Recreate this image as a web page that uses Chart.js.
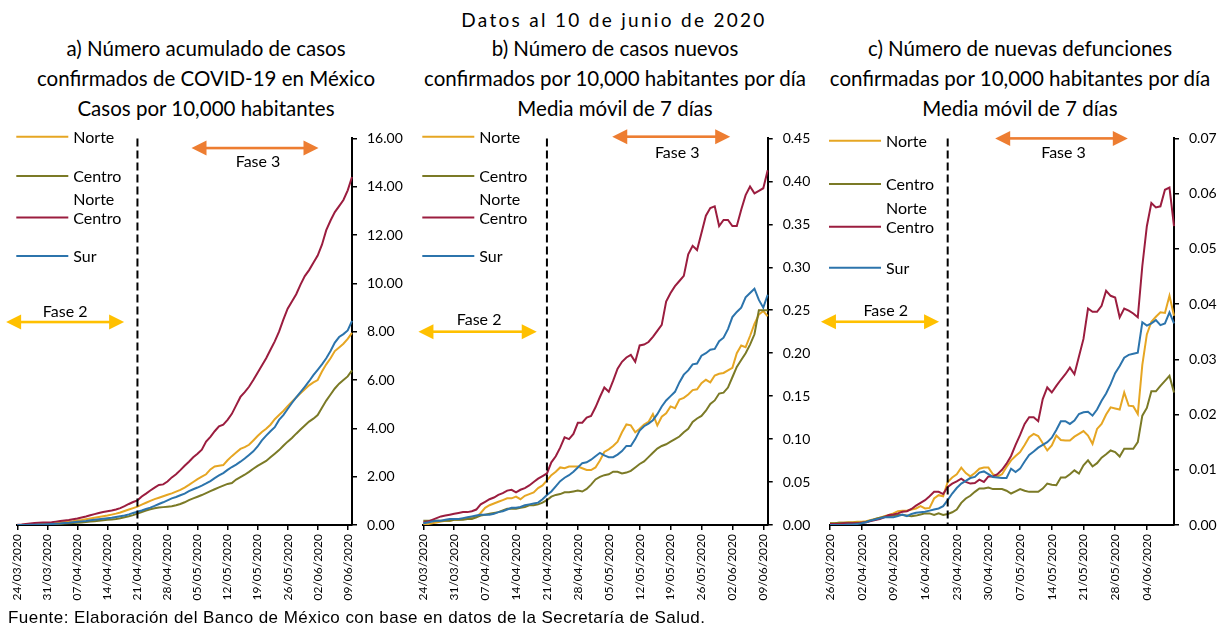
<!DOCTYPE html>
<html lang="es">
<head>
<meta charset="UTF-8">
<title>COVID-19 por regiones</title>
<script src="https://cdn.jsdelivr.net/npm/chart.js@4.4.0/dist/chart.umd.min.js"></script>
<style>
  html, body { margin: 0; padding: 0; background: #fff; }
  #hoja { position: relative; width: 1226px; height: 626px; overflow: hidden; font-family: Lato, sans-serif; color: #000; }
  .titulo { position: absolute; white-space: nowrap; transform: translateX(-50%); text-align: center; font-size: 20.5px; line-height: 30px; }
  canvas { position: absolute; }
  #fuente { position: absolute; left: 8px; top: 608px; font-family: "Liberation Sans", Arial, sans-serif; font-size: 17px; letter-spacing: 0.45px; white-space: nowrap; }
</style>
</head>
<body>
<div id="hoja">
  <div class="titulo" style="left:614px; top:5px; font-size:19px; letter-spacing:2.3px">Datos al 10 de junio de 2020</div>
  <div class="titulo" style="left:206px; top:33px">a) Número acumulado de casos<br>confirmados de COVID-19 en México<br>Casos por 10,000 habitantes</div>
  <div class="titulo" style="left:615px; top:33px">b) Número de casos nuevos<br>confirmados por 10,000 habitantes por día<br>Media móvil de 7 días</div>
  <div class="titulo" style="left:1020px; top:33px">c) Número de nuevas defunciones<br>confirmadas por 10,000 habitantes por día<br>Media móvil de 7 días</div>
  <canvas id="panelA" width="410" height="490" style="left:0; top:120px"></canvas>
  <canvas id="panelB" width="410" height="490" style="left:405px; top:120px"></canvas>
  <canvas id="panelC" width="411" height="490" style="left:815px; top:120px"></canvas>
  <div id="fuente">Fuente: Elaboración del Banco de México con base en datos de la Secretaría de Salud.</div>
</div>

<script>
// días consecutivos en formato dd/mm/aaaa
function fechas(inicio, n) {
  const d0 = Date.UTC(inicio[0], inicio[1] - 1, inicio[2]);
  const out = [];
  for (let i = 0; i < n; i++) {
    const d = new Date(d0 + i * 86400000);
    out.push(String(d.getUTCDate()).padStart(2, '0') + '/' + String(d.getUTCMonth() + 1).padStart(2, '0') + '/' + d.getUTCFullYear());
  }
  return out;
}

const fechasAB = fechas([2020, 3, 24], 79);   // 24/03 - 10/06
const fechasC = fechas([2020, 3, 26], 77);    // 26/03 - 10/06

const regiones = ['Norte', 'Centro', 'Norte Centro', 'Sur'];
const colores = ['#E6A623', '#7B7A26', '#9B1D3F', '#2C74AC'];

// a) casos acumulados por 10,000 habitantes
const acumNorte = [0.00,0.00,0.01,0.01,0.02,0.03,0.04,0.05,0.06,0.08,
  0.10,0.12,0.14,0.16,0.19,0.21,0.24,0.27,0.30,0.33,
  0.36,0.39,0.43,0.47,0.52,0.58,0.64,0.70,0.76,0.84,
  0.92,1.00,1.07,1.13,1.19,1.25,1.31,1.38,1.45,1.55,
  1.66,1.78,1.90,2.00,2.10,2.30,2.42,2.45,2.48,2.68,
  2.85,3.00,3.15,3.22,3.32,3.50,3.68,3.85,3.98,4.15,
  4.38,4.55,4.72,4.92,5.10,5.28,5.45,5.62,5.78,5.90,
  6.00,6.35,6.65,6.90,7.20,7.35,7.50,7.70,7.95];
const acumCentro = [0.00,0.00,0.00,0.01,0.01,0.01,0.02,0.02,0.03,0.04,
  0.05,0.06,0.07,0.08,0.09,0.10,0.12,0.14,0.16,0.18,
  0.20,0.22,0.23,0.25,0.28,0.32,0.36,0.41,0.47,0.54,
  0.60,0.65,0.69,0.72,0.74,0.76,0.78,0.82,0.87,0.94,
  1.03,1.10,1.17,1.24,1.32,1.40,1.48,1.56,1.63,1.70,
  1.74,1.88,1.98,2.08,2.20,2.33,2.45,2.55,2.65,2.80,
  2.95,3.10,3.28,3.45,3.60,3.78,3.95,4.12,4.28,4.40,
  4.55,4.85,5.15,5.40,5.65,5.85,6.00,6.15,6.40];
const acumNorteCentro = [0.01,0.02,0.04,0.06,0.08,0.09,0.10,0.10,0.11,0.14,
  0.17,0.19,0.21,0.24,0.27,0.31,0.35,0.40,0.45,0.50,
  0.54,0.57,0.60,0.64,0.70,0.78,0.87,0.95,1.02,1.18,
  1.30,1.43,1.55,1.66,1.68,1.80,1.97,2.10,2.27,2.45,
  2.62,2.80,2.95,3.12,3.45,3.65,3.88,4.08,4.15,4.35,
  4.60,4.95,5.30,5.50,5.72,6.00,6.30,6.60,6.90,7.25,
  7.60,8.00,8.50,8.95,9.25,9.55,9.95,10.30,10.55,10.85,
  11.15,11.60,12.20,12.60,12.95,13.20,13.45,13.85,14.40];
const acumSur = [0.00,0.00,0.00,0.01,0.01,0.02,0.02,0.03,0.04,0.05,
  0.06,0.08,0.09,0.11,0.13,0.15,0.17,0.20,0.22,0.24,
  0.26,0.28,0.30,0.33,0.36,0.39,0.44,0.50,0.55,0.60,
  0.66,0.72,0.79,0.87,0.94,1.02,1.10,1.16,1.23,1.30,
  1.40,1.48,1.55,1.63,1.72,1.82,1.94,2.05,2.15,2.28,
  2.40,2.50,2.62,2.75,2.90,3.05,3.25,3.50,3.70,3.88,
  4.05,4.35,4.55,4.80,5.05,5.28,5.50,5.72,5.95,6.20,
  6.42,6.65,6.90,7.20,7.55,7.78,7.90,8.05,8.45];

// b) casos nuevos por 10,000 habitantes, media móvil 7 días
const nuevosNorte = [0.001,0.001,0.002,0.003,0.004,0.005,0.005,0.006,0.006,0.007,
  0.008,0.009,0.009,0.014,0.020,0.023,0.025,0.027,0.029,0.031,
  0.031,0.033,0.030,0.034,0.036,0.038,0.043,0.046,0.052,0.058,
  0.062,0.067,0.066,0.068,0.068,0.068,0.066,0.064,0.064,0.067,
  0.075,0.085,0.088,0.092,0.097,0.108,0.117,0.116,0.108,0.112,
  0.117,0.120,0.129,0.116,0.126,0.130,0.138,0.136,0.146,0.148,
  0.152,0.157,0.158,0.165,0.169,0.166,0.174,0.176,0.177,0.180,
  0.183,0.200,0.209,0.207,0.220,0.234,0.245,0.249,0.243];
const nuevosCentro = [0.005,0.005,0.005,0.005,0.005,0.005,0.005,0.006,0.006,0.006,
  0.007,0.007,0.009,0.011,0.012,0.013,0.014,0.015,0.017,0.019,
  0.019,0.019,0.020,0.021,0.023,0.023,0.024,0.026,0.029,0.033,
  0.035,0.036,0.038,0.038,0.039,0.040,0.039,0.042,0.047,0.053,
  0.056,0.058,0.059,0.062,0.062,0.060,0.061,0.063,0.067,0.071,
  0.074,0.079,0.084,0.089,0.092,0.094,0.097,0.100,0.103,0.108,
  0.112,0.120,0.124,0.127,0.133,0.141,0.145,0.153,0.154,0.160,
  0.172,0.184,0.192,0.200,0.210,0.222,0.250,0.250,0.250];
const nuevosNorteCentro = [0.003,0.004,0.006,0.008,0.010,0.011,0.012,0.013,0.014,0.015,
  0.015,0.016,0.018,0.024,0.027,0.030,0.032,0.035,0.037,0.040,
  0.041,0.038,0.041,0.043,0.046,0.050,0.054,0.057,0.060,0.073,
  0.080,0.090,0.102,0.100,0.106,0.119,0.119,0.125,0.127,0.137,
  0.149,0.160,0.155,0.168,0.182,0.190,0.195,0.198,0.190,0.209,
  0.210,0.213,0.219,0.226,0.233,0.260,0.270,0.278,0.284,0.290,
  0.315,0.325,0.320,0.340,0.360,0.369,0.371,0.348,0.355,0.355,
  0.348,0.348,0.367,0.384,0.394,0.386,0.389,0.392,0.413];
const nuevosSur = [0.002,0.003,0.004,0.005,0.005,0.006,0.007,0.007,0.007,0.008,
  0.009,0.010,0.011,0.012,0.012,0.012,0.013,0.015,0.016,0.018,
  0.020,0.020,0.021,0.023,0.024,0.025,0.026,0.030,0.035,0.039,
  0.045,0.051,0.055,0.058,0.062,0.067,0.072,0.073,0.076,0.080,
  0.084,0.081,0.079,0.079,0.082,0.086,0.092,0.092,0.100,0.110,
  0.115,0.118,0.122,0.129,0.138,0.145,0.150,0.155,0.166,0.175,
  0.180,0.187,0.188,0.197,0.200,0.204,0.205,0.214,0.218,0.228,
  0.242,0.248,0.253,0.265,0.270,0.275,0.262,0.253,0.268];

// c) defunciones nuevas por 10,000 habitantes, media móvil 7 días
const defNorte = [0.0003,0.0003,0.0004,0.0004,0.0005,0.0005,0.0006,0.0006,0.0007,0.0009,
  0.0011,0.0013,0.0016,0.0018,0.0021,0.0025,0.0026,0.0026,0.0028,0.0030,
  0.0034,0.0030,0.0031,0.0048,0.0054,0.0052,0.0078,0.0086,0.0092,0.0104,
  0.0094,0.0088,0.0094,0.0102,0.0104,0.0104,0.0092,0.0088,0.0092,0.0105,
  0.0117,0.0125,0.0132,0.0145,0.0159,0.0165,0.0161,0.0148,0.0135,0.0144,
  0.0162,0.0154,0.0153,0.0153,0.0160,0.0165,0.0170,0.0162,0.0147,0.0174,
  0.0183,0.0200,0.0213,0.0211,0.0209,0.0240,0.0216,0.0215,0.0201,0.0290,
  0.0345,0.0368,0.0377,0.0385,0.0384,0.0415,0.0379];
const defCentro = [0.0003,0.0003,0.0004,0.0004,0.0004,0.0004,0.0004,0.0004,0.0006,0.0008,
  0.0011,0.0013,0.0015,0.0016,0.0017,0.0018,0.0018,0.0017,0.0016,0.0017,
  0.0019,0.0021,0.0021,0.0018,0.0021,0.0018,0.0020,0.0023,0.0028,0.0040,
  0.0048,0.0053,0.0060,0.0066,0.0066,0.0068,0.0065,0.0065,0.0065,0.0062,
  0.0057,0.0061,0.0065,0.0062,0.0060,0.0060,0.0060,0.0066,0.0075,0.0073,
  0.0072,0.0086,0.0086,0.0092,0.0099,0.0093,0.0108,0.0117,0.0106,0.0112,
  0.0122,0.0128,0.0135,0.0132,0.0124,0.0138,0.0138,0.0138,0.0150,0.0198,
  0.0212,0.0242,0.0242,0.0252,0.0261,0.0270,0.0240];
const defNorteCentro = [0.0002,0.0002,0.0002,0.0003,0.0003,0.0003,0.0003,0.0004,0.0005,0.0007,
  0.0009,0.0011,0.0014,0.0018,0.0019,0.0021,0.0024,0.0025,0.0029,0.0035,
  0.0040,0.0045,0.0052,0.0060,0.0060,0.0056,0.0069,0.0075,0.0079,0.0084,
  0.0078,0.0075,0.0076,0.0082,0.0078,0.0088,0.0088,0.0092,0.0100,0.0111,
  0.0125,0.0145,0.0163,0.0183,0.0195,0.0195,0.0188,0.0228,0.0249,0.0240,
  0.0252,0.0263,0.0273,0.0285,0.0273,0.0305,0.0337,0.0392,0.0386,0.0386,
  0.0397,0.0424,0.0415,0.0412,0.0376,0.0392,0.0388,0.0383,0.0376,0.0469,
  0.0541,0.0583,0.0575,0.0577,0.0607,0.0611,0.0541];
const defSur = [0.0000,0.0000,0.0000,0.0000,0.0001,0.0001,0.0002,0.0003,0.0005,0.0008,
  0.0010,0.0012,0.0014,0.0014,0.0014,0.0016,0.0019,0.0016,0.0020,0.0022,
  0.0023,0.0024,0.0026,0.0028,0.0030,0.0034,0.0045,0.0057,0.0067,0.0075,
  0.0080,0.0085,0.0087,0.0095,0.0097,0.0092,0.0087,0.0086,0.0085,0.0085,
  0.0102,0.0096,0.0102,0.0115,0.0127,0.0133,0.0140,0.0145,0.0150,0.0158,
  0.0172,0.0188,0.0188,0.0183,0.0189,0.0201,0.0204,0.0205,0.0198,0.0209,
  0.0225,0.0238,0.0255,0.0275,0.0288,0.0303,0.0308,0.0310,0.0312,0.0367,
  0.0361,0.0365,0.0371,0.0362,0.0365,0.0385,0.0365];

// leyenda: textos por renglón
const leyendaTextos = [['Norte'], ['Centro'], ['Norte', 'Centro'], ['Sur']];

function dibujaFlecha(ctx, x1, x2, y, color) {
  const cabeza = 15, media = 7.5;
  ctx.fillStyle = color;
  ctx.fillRect(x1 + cabeza - 1, y - 1.3, (x2 - x1) - 2 * cabeza + 2, 2.6);
  ctx.beginPath();
  ctx.moveTo(x1, y); ctx.lineTo(x1 + cabeza, y - media); ctx.lineTo(x1 + cabeza, y + media); ctx.closePath();
  ctx.fill();
  ctx.beginPath();
  ctx.moveTo(x2, y); ctx.lineTo(x2 - cabeza, y - media); ctx.lineTo(x2 - cabeza, y + media); ctx.closePath();
  ctx.fill();
}

const decoraciones = {
  id: 'decoraciones',
  afterDatasetsDraw(chart, args, opts) {
    const { ctx, chartArea } = chart;
    const x = chart.scales.x, y = chart.scales.y;
    ctx.save();

    // inicio de la fase 3
    const xc = x.getPixelForValue(opts.corte);
    ctx.strokeStyle = '#000';
    ctx.lineWidth = 2;
    ctx.setLineDash([8, 4]);
    ctx.beginPath();
    ctx.moveTo(xc, chartArea.top);
    ctx.lineTo(xc, chartArea.bottom);
    ctx.stroke();
    ctx.setLineDash([]);

    ctx.font = '16px Lato';
    ctx.textAlign = 'center';
    ctx.textBaseline = 'middle';
    opts.flechas.forEach(f => {
      const x1 = x.getPixelForValue(f.desde);
      const x2 = x.getPixelForValue(f.hasta);
      const yy = y.getPixelForValue(f.nivel);
      dibujaFlecha(ctx, x1, x2, yy, f.color);
      ctx.fillStyle = '#000';
      ctx.fillText(f.texto, (x1 + x2) / 2 + f.dx, yy + f.dy);
    });

    // leyenda
    ctx.textAlign = 'left';
    ctx.lineWidth = 2;
    leyendaTextos.forEach((lineas, i) => {
      const yl = chartArea.top + opts.leyendaY[i];
      const x0 = chartArea.left - 1;
      ctx.strokeStyle = colores[i];
      ctx.beginPath();
      ctx.moveTo(x0, yl);
      ctx.lineTo(x0 + 52, yl);
      ctx.stroke();
      ctx.fillStyle = '#000';
      lineas.forEach((t, k) => {
        ctx.fillText(t, x0 + 57, yl + 1 - (lineas.length - 1 - k) * 19);
      });
    });
    ctx.restore();
  }
};

function crearPanel(id, etiquetas, series, yMax, yPaso, pad, anchoY, deco) {
  new Chart(document.getElementById(id), {
    type: 'line',
    data: {
      labels: etiquetas,
      datasets: series.map((s, i) => ({
        label: regiones[i],
        data: s,
        borderColor: colores[i],
        backgroundColor: colores[i],
        borderWidth: 2,
        pointRadius: 0,
        tension: 0,
        order: 4 - i
      }))
    },
    plugins: [decoraciones],
    options: {
      responsive: false,
      animation: false,
      events: [],
      layout: { padding: { left: pad, top: 16.7, right: 0, bottom: 0 } },
      plugins: {
        legend: { display: false },
        tooltip: { enabled: false },
        decoraciones: deco
      },
      scales: {
        x: {
          grid: {
            drawOnChartArea: false,
            tickLength: 5,
            lineWidth: 1.5,
            color: c => (c.index % 7 === 0 ? '#000' : 'rgba(0,0,0,0)')
          },
          border: { color: '#000', width: 2 },
          ticks: {
            autoSkip: false,
            minRotation: 90,
            maxRotation: 90,
            padding: 4,
            color: '#000',
            font: { family: 'Lato', size: 12 },
            callback: (v, i) => (i % 7 === 0 ? etiquetas[i] : '')
          },
          afterFit: s => { s.height = 85; }
        },
        y: {
          position: 'right',
          min: 0,
          max: yMax,
          grid: { drawOnChartArea: false, tickLength: 5, lineWidth: 1.5, color: '#000' },
          border: { color: '#000', width: 2 },
          ticks: {
            stepSize: yPaso,
            padding: 10,
            color: '#000',
            font: { family: 'Lato', size: 14 },
            callback: v => Number(v).toFixed(2)
          },
          afterFit: s => { s.width = anchoY; }
        }
      }
    }
  });
}

crearPanel('panelA', fechasAB, [acumNorte, acumCentro, acumNorteCentro, acumSur], 16, 2, 17.3, 58, {
  corte: 28,
  leyendaY: [-1.7, 37.6, 79, 117.6],
  flechas: [
    { desde: -2.6, hasta: 24.9, nivel: 8.4, color: '#FFC000', texto: 'Fase 2', dx: 0, dy: -10.5 },
    { desde: 40.6, hasta: 70.2, nivel: 15.6, color: '#ED7D31', texto: 'Fase 3', dx: 3, dy: 14 }
  ]
});

crearPanel('panelB', fechasAB, [nuevosNorte, nuevosCentro, nuevosNorteCentro, nuevosSur], 0.45, 0.05, 18.3, 47.3, {
  corte: 28,
  leyendaY: [-1.7, 37.6, 79, 117.6],
  flechas: [
    { desde: -1.1, hasta: 25.7, nivel: 0.225, color: '#FFC000', texto: 'Fase 2', dx: 1.5, dy: -11.7 },
    { desde: 42.8, hasta: 69.5, nivel: 0.452, color: '#ED7D31', texto: 'Fase 3', dx: 6, dy: 15.7 }
  ]
});

crearPanel('panelC', fechasC, [defNorte, defCentro, defNorteCentro, defSur], 0.07, 0.01, 15, 52, {
  corte: 26,
  leyendaY: [2.3, 45.6, 88.3, 129.3],
  flechas: [
    { desde: -2, hasta: 24.1, nivel: 0.0368, color: '#FFC000', texto: 'Fase 2', dx: 5.7, dy: -11 },
    { desde: 36.5, hasta: 65.8, nivel: 0.070, color: '#ED7D31', texto: 'Fase 3', dx: 2, dy: 14 }
  ]
});
</script>
</body>
</html>
